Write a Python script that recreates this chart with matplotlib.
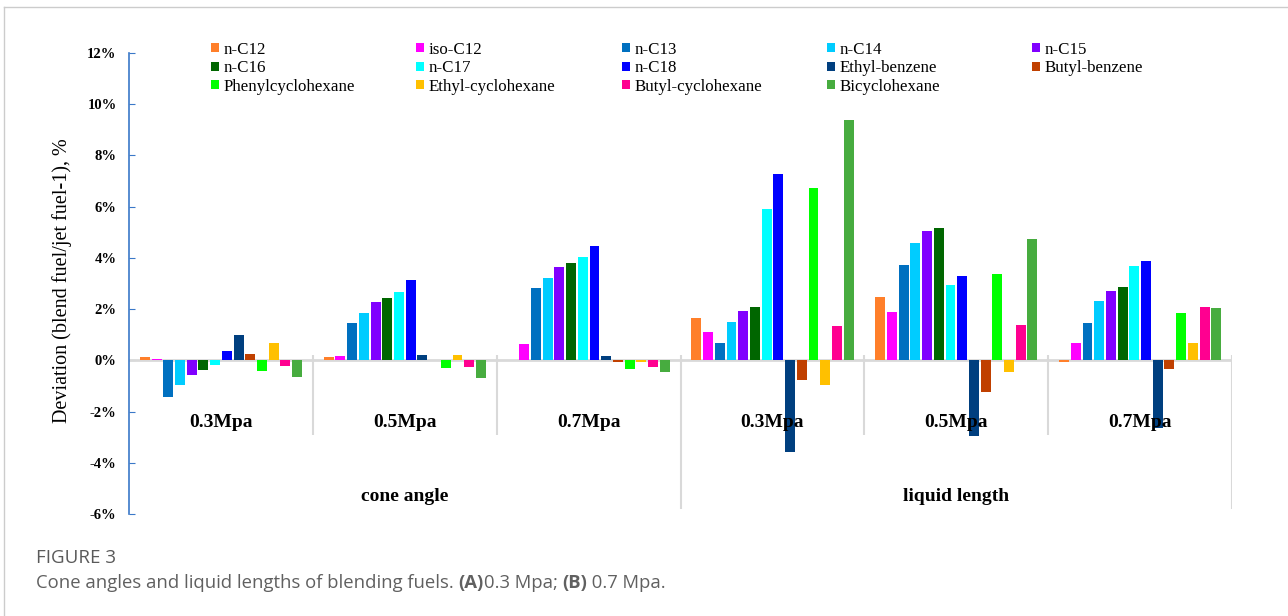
import matplotlib.pyplot as plt
import numpy as np
from matplotlib.lines import Line2D

groups = ['0.3Mpa', '0.5Mpa', '0.7Mpa', '0.3Mpa', '0.5Mpa', '0.7Mpa']
sections = ['cone angle', 'liquid length']

fuels = ['n-C12', 'iso-C12', 'n-C13', 'n-C14', 'n-C15',
         'n-C16', 'n-C17', 'n-C18', 'Ethyl-benzene', 'Butyl-benzene',
         'Phenylcyclohexane', 'Ethyl-cyclohexane', 'Butyl-cyclohexane', 'Bicyclohexane']
colors = ['#FF7F2A', '#FF00FF', '#0070C0', '#00CCFF', '#8000FF',
          '#006600', '#00FFFF', '#0000FF', '#003F7F', '#C04000',
          '#00FF00', '#FFC000', '#FF0090', '#47AC3F']

# deviation (%) for each fuel, one value per group
n_c12 = [0.12, 0.12, 0.00, 1.67, 2.48, -0.06]
iso_c12 = [0.07, 0.16, 0.63, 1.12, 1.87, 0.69]
n_c13 = [-1.43, 1.45, 2.81, 0.69, 3.74, 1.45]
n_c14 = [-0.97, 1.86, 3.22, 1.51, 4.58, 2.31]
n_c15 = [-0.58, 2.29, 3.63, 1.91, 5.03, 2.72]
n_c16 = [-0.37, 2.42, 3.78, 2.08, 5.17, 2.87]
n_c17 = [-0.16, 2.68, 4.04, 5.92, 2.93, 3.69]
n_c18 = [0.36, 3.13, 4.46, 7.25, 3.30, 3.86]
ethyl_benzene = [1.00, 0.23, 0.17, -3.59, -2.93, -2.63]
butyl_benzene = [0.26, 0.00, -0.06, -0.77, -1.24, -0.34]
phenylcyclohexane = [-0.40, -0.28, -0.34, 6.74, 3.37, 1.86]
ethyl_cyclohexane = [0.69, 0.20, -0.05, -0.97, -0.45, 0.69]
butyl_cyclohexane = [-0.20, -0.24, -0.24, 1.35, 1.39, 2.10]
bicyclohexane = [-0.64, -0.67, -0.45, 9.37, 4.74, 2.04]

series = [n_c12, iso_c12, n_c13, n_c14, n_c15, n_c16, n_c17, n_c18,
          ethyl_benzene, butyl_benzene, phenylcyclohexane, ethyl_cyclohexane,
          butyl_cyclohexane, bicyclohexane]

serif = 'Liberation Serif'

fig = plt.figure(figsize=(12.88, 6.16), dpi=100)
ax = fig.add_axes([0.1002, 0.1651, 0.8564, 0.7494])

x = np.arange(len(groups)) + 0.5
pitch = 0.0637
handles = []
for j, (vals, c) in enumerate(zip(series, colors)):
    b = ax.bar(x + (j - 6.5) * pitch, vals, width=0.054, color=c, zorder=3)
    handles.append(b)

ax.set_xlim(0, 6)
ax.set_ylim(-6, 12)
ax.axhline(0, color='#D9D9D9', lw=2, zorder=2)
ax.vlines([1, 2, 4, 5], 0.2, -2.9, color='#D9D9D9', lw=1.5, zorder=1)
ax.vlines([3, 6], 0.2, -5.8, color='#D9D9D9', lw=1.5, zorder=1)

for s in ['top', 'right', 'bottom']:
    ax.spines[s].set_visible(False)
ax.spines['left'].set_color('#3A78C8')
ax.spines['left'].set_linewidth(1.2)
ax.set_xticks([])
ax.set_yticks(np.arange(-6, 13, 2))
ax.set_yticklabels([f'{v}%' for v in range(-6, 13, 2)],
                   fontfamily=serif, fontweight='bold', fontsize=10.5)
ax.tick_params(axis='y', direction='in', length=4, color='#3A78C8', pad=9)

for xi, g in zip(x, groups):
    ax.text(xi, -2.43, g, ha='center', va='center', fontfamily=serif,
            fontweight='bold', fontsize=14, zorder=5)
for xi, s in zip([1.5, 4.5], sections):
    ax.text(xi, -5.3, s, ha='center', va='center', fontfamily=serif,
            fontweight='bold', fontsize=14)

fig.text(0.0485, 0.5446, 'Deviation (blend fuel/jet fuel-1), %', rotation=90,
         ha='center', va='center', fontfamily=serif, fontsize=14.5)

# legend laid out in 5 evenly spaced columns
col_x = [211, 416, 622, 827, 1032]
for c in range(5):
    idx = [i for i in (c, c + 5, c + 10) if i < len(fuels)]
    leg = fig.legend([handles[i] for i in idx], [fuels[i] for i in idx],
                     loc='upper left', bbox_to_anchor=(col_x[c] / 1288, 0.932),
                     bbox_transform=fig.transFigure, frameon=False,
                     borderpad=0, borderaxespad=0, handlelength=0.45,
                     handleheight=0.45, handletextpad=0.3, labelspacing=0.15,
                     prop={'family': serif, 'size': 12.2})

# frame around figure panel
fig.add_artist(Line2D([4 / 1288, 1], [1 - 7 / 616, 1 - 7 / 616],
                      transform=fig.transFigure, color='#CCCCCC', lw=1))
fig.add_artist(Line2D([4 / 1288, 4 / 1288], [0, 1 - 7 / 616],
                      transform=fig.transFigure, color='#CCCCCC', lw=1))

# caption
fig.text(36 / 1288, 1 - 558 / 616, 'FIGURE 3', fontfamily='Open Sans',
         fontsize=13.5, color='#5A5A5A', va='center')
renderer = fig.canvas.get_renderer()
parts = [('Cone angles and liquid lengths of blending fuels. ', 'normal'),
         ('(A)', 'bold'), ('0.3 Mpa; ', 'normal'), ('(B)', 'bold'),
         (' 0.7 Mpa.', 'normal')]
xpos = 36 / 1288
for txt, w in parts:
    t = fig.text(xpos, 1 - 583 / 616, txt, fontfamily='Open Sans', fontsize=13.3,
                 fontweight=w, color='#606060', va='center')
    bb = t.get_window_extent(renderer=renderer)
    xpos += bb.width / fig.bbox.width

fig.savefig('out.png', dpi=100)
